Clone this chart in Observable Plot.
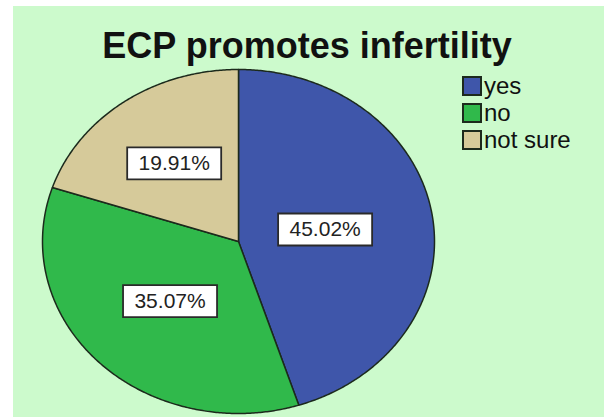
<!DOCTYPE html>
<html><head><meta charset="utf-8">
<script src="https://cdn.jsdelivr.net/npm/d3@7"></script>
<script src="https://cdn.jsdelivr.net/npm/@observablehq/plot@0.6"></script>
<style>
body{margin:0;background:#fff;width:604px;height:417px;overflow:hidden;}
#wrap{position:absolute;left:13px;top:6px;width:591px;height:411px;background:#ccfacc;overflow:hidden;font-family:"Liberation Sans",Arial,sans-serif;}
#title{position:absolute;left:-8px;top:20px;width:604px;text-align:center;font-weight:bold;font-size:36px;line-height:40px;color:#111;}
#chart{position:absolute;left:0;top:0;}
#legend{position:absolute;left:449px;top:66px;font-size:24px;color:#111;}
.row{display:flex;align-items:center;height:27px;}
.sw{width:20px;height:20px;border:2px solid #1c2a1c;margin-right:2px;box-sizing:border-box;}
</style></head>
<body><div id="wrap"><div id="chart"></div><div id="title">ECP promotes infertility</div><div id="legend"></div></div>
<script>
const categories = ["yes", "no", "not sure"];
const percents = [45.02, 35.07, 19.91];
const colors = ["#3f56aa", "#30b94b", "#d6ca9a"];

// build slice polygons (angles clockwise from 12 o'clock)
const total = d3.sum(percents);
let start = 0;
const slices = categories.map((c, i) => {
  const f = percents[i] / total;
  const a0 = start / total * 2 * Math.PI;
  start += percents[i];
  const a1 = start / total * 2 * Math.PI;
  const pts = [{x: 0, y: 0}];
  const n = Math.max(2, Math.ceil((a1 - a0) / (Math.PI / 360)));
  for (let k = 0; k <= n; k++) {
    const a = a0 + (a1 - a0) * k / n;
    pts.push({x: Math.sin(a), y: Math.cos(a)});
  }
  pts.push({x: 0, y: 0});
  const m = (a0 + a1) / 2;
  const lr = 0.65 - 0.45 * f; // smaller slices push labels outward
  return {cat: c, pct: percents[i], color: colors[i], pts, lx: lr * Math.sin(m), ly: lr * Math.cos(m)};
});

const boxSymbol = {draw(ctx) { ctx.rect(-47, -16, 94, 32); ctx.closePath(); }};

const plot = Plot.plot({
  width: 591,
  height: 411,
  margin: 0,
  style: {background: "transparent", fontFamily: "'Liberation Sans', Arial, sans-serif"},
  x: {domain: [-1, 1], range: [29, 421], axis: null},
  y: {domain: [-1, 1], range: [407, 63], axis: null},
  marks: [
    ...slices.map(s => Plot.line(s.pts, {x: "x", y: "y", fill: s.color, stroke: "#1c2a1c", strokeWidth: 1.5, strokeLinejoin: "round"})),
    Plot.dot(slices, {x: "lx", y: "ly", symbol: boxSymbol, fill: "white", stroke: "#2a2a2a", strokeWidth: 1.8}),
    Plot.text(slices, {x: "lx", y: "ly", text: d => d.pct.toFixed(2) + "%", fontSize: 21, fill: "#222"})
  ]
});
document.getElementById("chart").appendChild(plot);

const lg = document.getElementById("legend");
categories.forEach((c, i) => {
  const r = document.createElement("div");
  r.className = "row";
  const sw = document.createElement("div");
  sw.className = "sw";
  sw.style.background = colors[i];
  const t = document.createElement("span");
  t.textContent = c;
  r.appendChild(sw); r.appendChild(t);
  lg.appendChild(r);
});
</script>
</body></html>
